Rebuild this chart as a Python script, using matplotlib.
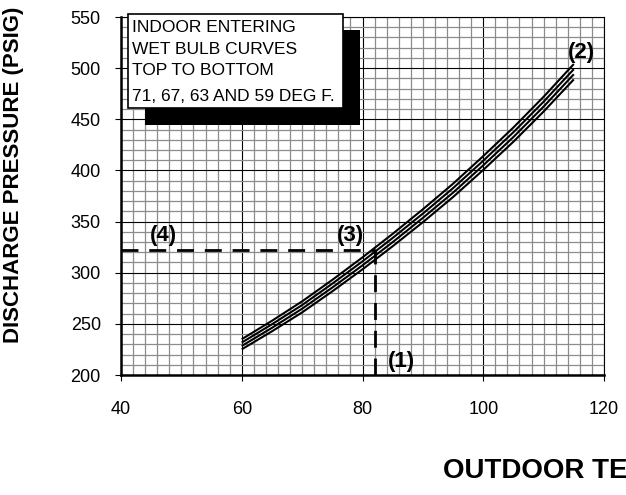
import matplotlib
matplotlib.use("Agg")
import matplotlib.pyplot as plt
from matplotlib.patches import Rectangle
from matplotlib.ticker import MultipleLocator

plt.rcParams['font.family'] = ['Liberation Sans', 'DejaVu Sans']

# ---- data ----
outdoor_temp = [60, 65, 70, 75, 80, 85, 90, 95, 100, 105, 110, 115]
wb71 = [235.0, 253.0, 272.0, 293.0, 315.0, 338.0, 362.0, 387.0, 414.0, 442.0, 472.0, 504.0]
wb67 = [231.7, 249.6, 268.4, 289.3, 311.1, 334.0, 357.8, 382.7, 409.5, 437.4, 467.2, 499.0]
wb63 = [228.4, 246.1, 264.8, 285.5, 307.2, 329.9, 353.6, 378.3, 405.0, 432.7, 462.4, 494.0]
wb59 = [225.1, 242.7, 261.2, 281.8, 303.3, 325.9, 349.4, 374.0, 400.5, 428.1, 457.6, 489.0]
curves = [wb71, wb67, wb63, wb59]

x_ticks = [40, 60, 80, 100, 120]
y_ticks = [200, 250, 300, 350, 400, 450, 500, 550]

example_temp = 82
example_pressure = 322

legend_lines = ["INDOOR ENTERING", "WET BULB CURVES", "TOP TO BOTTOM", "71, 67, 63 AND 59 DEG F."]
marker_labels = ["(1)", "(2)", "(3)", "(4)"]

# ---- figure ----
fig = plt.figure(figsize=(6.26, 4.95), dpi=100)
ax = fig.add_axes([121/626, 1-375/495, (604-121)/626, (375-17)/495])

ax.set_xlim(40, 120)
ax.set_ylim(200, 550)

ax.xaxis.set_minor_locator(MultipleLocator(2))
ax.yaxis.set_minor_locator(MultipleLocator(10))
ax.set_xticks(x_ticks)
ax.set_yticks(y_ticks)
ax.grid(which='minor', color='#8c8c8c', linewidth=0.9, zorder=0)
ax.grid(which='major', color='black', linewidth=0.8, zorder=0.5)
ax.set_axisbelow(True)
ax.tick_params(which='minor', length=0)
ax.tick_params(which='major', direction='out', length=4.5, width=0.8,
               labelsize=13, pad=10)
ax.tick_params(axis='x', pad=14)

for s in ['left', 'bottom']:
    ax.spines[s].set_linewidth(1.8)
for s in ['top', 'right']:
    ax.spines[s].set_linewidth(0.8)

for c in curves:
    ax.plot(outdoor_temp, c, color='black', lw=1.5, zorder=3, solid_capstyle='butt')

# dashed example lines
lw = 2.0
ax.plot([40, example_temp], [example_pressure, example_pressure], color='black', lw=lw,
        linestyle=(0, (6.1, 3.9)), zorder=2.5)
ax.plot([example_temp, example_temp], [200, example_pressure], color='black', lw=lw,
        linestyle=(0, (6.1, 3.9)), zorder=2.5)

# marker labels
ax.text(86.4, 213, marker_labels[0], fontsize=16, fontweight='bold', ha='center', va='center', zorder=5)
ax.text(116.3, 515, marker_labels[1], fontsize=16, fontweight='bold', ha='center', va='center', zorder=5)
ax.text(78.0, 336, marker_labels[2], fontsize=16, fontweight='bold', ha='center', va='center', zorder=5)
ax.text(47.0, 336, marker_labels[3], fontsize=16, fontweight='bold', ha='center', va='center', zorder=5)

# legend box with shadow
ax.add_patch(Rectangle((43.97, 444.4), 79.59-43.97, 537.3-444.4, facecolor='black',
                       edgecolor='none', zorder=6, clip_on=False))
ax.add_patch(Rectangle((41.16, 461.0), 76.77-41.16, 552.9-461.0, facecolor='white',
                       edgecolor='black', lw=1.2, zorder=7, clip_on=False))
baselines_px = [32, 54, 75, 101]
for txt, by in zip(legend_lines, baselines_px):
    yd = 550 - (by - 17) / 1.0229
    ax.text(41.85, yd, txt, fontsize=12.5, ha='left', va='baseline', zorder=8, clip_on=False)

# axis labels
fig.text(14/626, 1-175/495, "DISCHARGE PRESSURE (PSIG)", rotation=90, fontsize=16,
         fontweight='bold', ha='center', va='center')
fig.text(443/626, 1-478/495, "OUTDOOR TEMPERATURE (DEG F)", fontsize=20,
         fontweight='bold', ha='left', va='baseline')

fig.savefig("out.png", dpi=100)
